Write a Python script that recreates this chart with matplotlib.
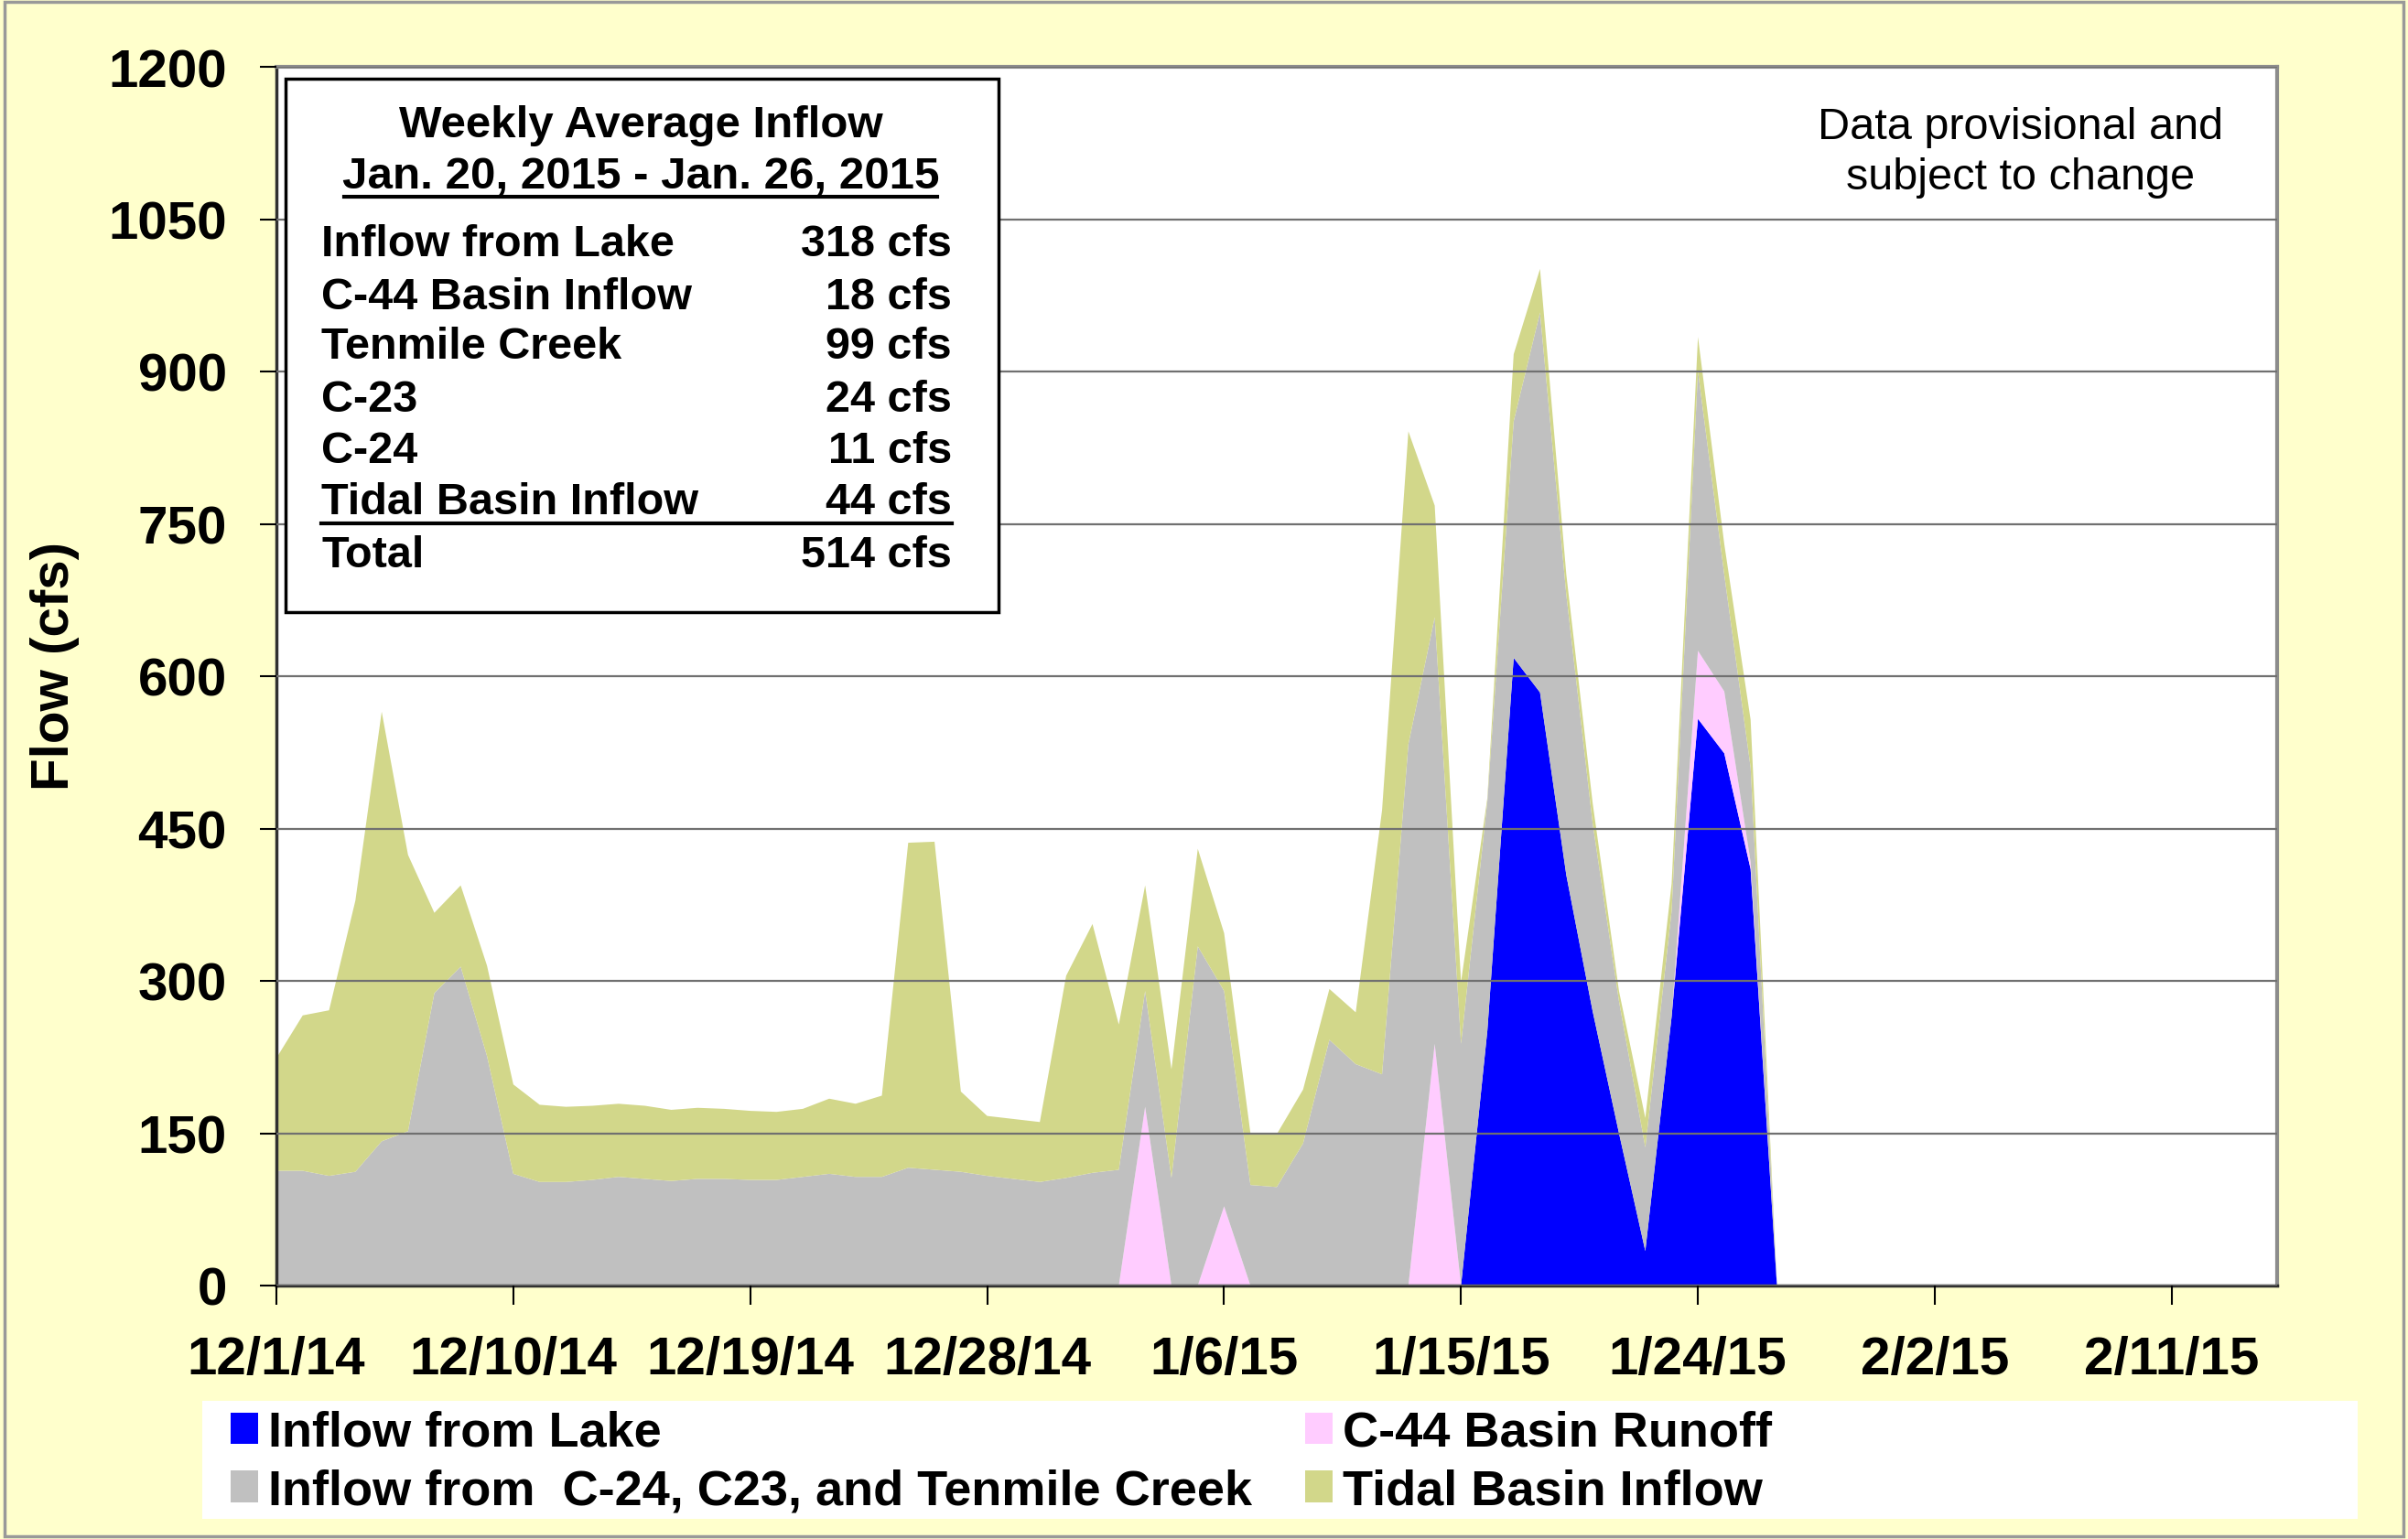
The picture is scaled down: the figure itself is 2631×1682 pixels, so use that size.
import matplotlib
matplotlib.use("Agg")
import matplotlib.pyplot as plt
import matplotlib.dates as mdates
from matplotlib.patches import Rectangle
from matplotlib.lines import Line2D
from matplotlib.ticker import FuncFormatter
import pandas as pd

plt.rcParams['font.family'] = ['Liberation Sans', 'DejaVu Sans']
plt.rcParams['font.weight'] = 'bold'

# daily flows (cfs), 12/1/14 .. 1/27/15
dates = pd.date_range('2014-12-01', '2015-01-27', freq='D')
lake = [0, 0, 0, 0, 0, 0, 0, 0, 0, 0, 0, 0, 0, 0, 0, 0, 0, 0, 0, 0,
        0, 0, 0, 0, 0, 0, 0, 0, 0, 0, 0, 0, 0, 0, 0, 0, 0, 0, 0, 0,
        0, 0, 0, 0, 0, 0, 251, 618, 584, 404, 270, 150, 34, 265, 558, 524,
        410, 0]
c44 = [0, 0, 0, 0, 0, 0, 0, 0, 0, 0, 0, 0, 0, 0, 0, 0, 0, 0, 0, 0,
       0, 0, 0, 0, 0, 0, 0, 0, 0, 0, 0, 0, 0, 176, 0, 0, 78, 0, 0, 0,
       0, 0, 0, 0, 238, 0, 0, 0, 0, 0, 0, 0, 0, 0, 67, 61,
       7, 0]
creeks = [113, 113, 108, 112, 142, 152, 288, 314, 226, 110, 102, 102, 104, 107, 105, 103, 105, 105, 104, 104,
          107, 110, 107, 107, 116, 114, 112, 108, 105, 102, 106, 111, 114, 114, 106, 334, 212, 99, 97, 140,
          242, 218, 208, 533, 420, 238, 226, 233, 374, 276, 185, 130, 102, 104, 275, 115,
          93, 0]
tidal = [111, 153, 163, 267, 423, 272, 79, 80, 89, 88, 76, 74, 73, 72, 72, 70, 70, 69, 68, 67,
         67, 74, 72, 80, 320, 323, 79, 59, 59, 59, 199, 245, 143, 104, 107, 96, 57, 51, 52, 53,
         50, 51, 260, 308, 110, 61, 3, 66, 43, 20, 20, 10, 29, 27, 34, 30,
         47, 0]

labels = ['Inflow from Lake', 'C-44 Basin Runoff',
          'Inflow from  C-24, C23, and Tenmile Creek', 'Tidal Basin Inflow']
colors = ['#0000FF', '#FFCCFF', '#C0C0C0', '#D2D78A']

summary_names = ['Inflow from Lake', 'C-44 Basin Inflow', 'Tenmile Creek',
                 'C-23', 'C-24', 'Tidal Basin Inflow', 'Total']
summary_vals = ['318 cfs', '18 cfs', '99 cfs', '24 cfs', '11 cfs', '44 cfs', '514 cfs']

W, H = 2631, 1683
fig = plt.figure(figsize=(W / 100, H / 100), dpi=100)
fig.patch.set_facecolor('#FFFFCC')


def fx(x):
    return x / W


def fy(y):
    return 1 - y / H


# figure border
fig.patches.append(Rectangle((0.002, 0.002), 0.996, 0.996, transform=fig.transFigure,
                             fill=False, edgecolor='#999999', lw=2.5))

ax = fig.add_axes([fx(302), fy(1406), fx(2488) - fx(302), fy(74) - fy(1406)])
ax.set_facecolor('white')

polys = ax.stackplot(dates, lake, c44, creeks, tidal, colors=colors, labels=labels, lw=0)

ax.set_ylim(0, 1200)
ax.set_yticks(range(0, 1201, 150))
ax.set_xlim(pd.Timestamp('2014-12-01'), pd.Timestamp('2015-02-15'))
ax.set_xticks(pd.date_range('2014-12-01', periods=9, freq='9D'))
ax.xaxis.set_major_formatter(FuncFormatter(
    lambda v, p: (lambda d: f"{d.month}/{d.day}/{d.strftime('%y')}")(mdates.num2date(v))))

ax.yaxis.grid(True, color='#707070', lw=1.6)
ax.set_axisbelow(False)
for l in ax.get_ygridlines():
    l.set_zorder(0.5)
for p in polys:
    p.set_zorder(1)

ax.tick_params(axis='y', direction='out', length=13, width=1.5, pad=26, labelsize=42)
ax.tick_params(axis='x', direction='out', length=15, width=1.5, pad=24, labelsize=42)
for s in ['top', 'right']:
    ax.spines[s].set_color('#8C8C8C')
    ax.spines[s].set_linewidth(3)
for s in ['left', 'bottom']:
    ax.spines[s].set_color('#303030')
    ax.spines[s].set_linewidth(2.5)

fig.text(fx(60), fy(728), 'Flow (cfs)', rotation=90, ha='center', va='center',
         fontsize=42, fontweight='bold')

# summary box
fig.patches.append(Rectangle((fx(312), fy(670)), fx(1091) - fx(312), fy(87) - fy(670),
                             transform=fig.transFigure, facecolor='white',
                             edgecolor='black', lw=2.5, zorder=5))
fig.text(fx(700), fy(138), 'Weekly Average Inflow', ha='center', va='center', fontsize=35.5, zorder=6)
fig.text(fx(700), fy(194), 'Jan. 20, 2015 - Jan. 26, 2015', ha='center', va='center', fontsize=35.5, zorder=6)
fig.lines.append(Line2D([fx(376), fx(1024)], [fy(216), fy(216)], transform=fig.transFigure,
                        color='black', lw=3, zorder=6))
row_y = [268, 325, 380, 437, 493, 550, 608]
for name, val, yy in zip(summary_names, summary_vals, row_y):
    fig.text(fx(351), fy(yy), name, ha='left', va='center', fontsize=35, zorder=6)
    fig.text(fx(1040), fy(yy), val, ha='right', va='center', fontsize=35, zorder=6)
fig.lines.append(Line2D([fx(351), fx(1040)], [fy(573), fy(573)], transform=fig.transFigure,
                        color='black', lw=3, zorder=6))

fig.text(fx(2208), fy(167), 'Data provisional and\nsubject to change', ha='center', va='center',
         fontsize=35, fontweight='normal', linespacing=1.3)

# legend
fig.patches.append(Rectangle((fx(221), fy(1661)), fx(2576) - fx(221), fy(1532) - fy(1661),
                             transform=fig.transFigure, facecolor='white', edgecolor='none'))
handles = [polys[0], polys[2], polys[1], polys[3]]
leg_labels = [labels[0], labels[2], labels[1], labels[3]]
fig.legend(handles, leg_labels, loc='upper left', bbox_to_anchor=(fx(252), fy(1542)),
           ncol=2, frameon=False, fontsize=39, handlelength=0.55, handleheight=0.6,
           handletextpad=0.2, columnspacing=1.08, labelspacing=0.25, borderpad=0,
           borderaxespad=0)

fig.savefig('out.png', dpi=100, facecolor=fig.get_facecolor())
